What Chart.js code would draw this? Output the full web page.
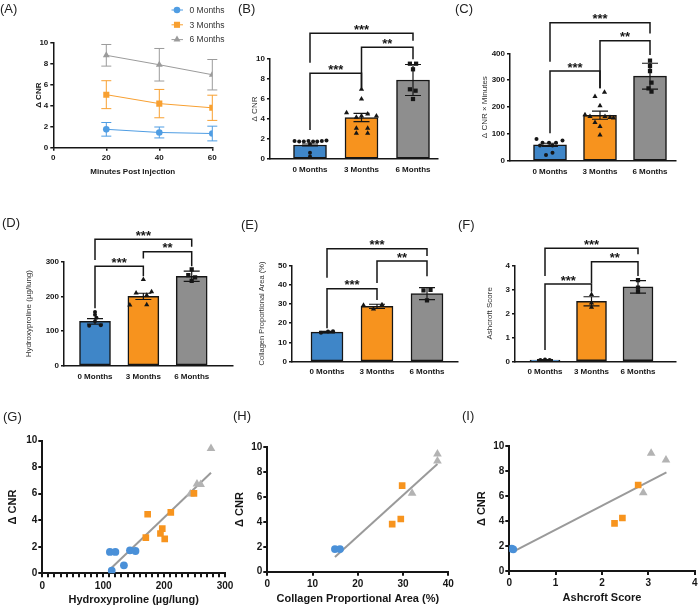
<!DOCTYPE html>
<html>
<head>
<meta charset="utf-8">
<script src="https://cdn.jsdelivr.net/npm/chart.js@4.4.0/dist/chart.umd.min.js"></script>
<style>
  html, body { margin: 0; padding: 0; background: #fff; }
  #page { position: relative; width: 700px; height: 607px; overflow: hidden; }
  #page canvas { position: absolute; left: 0; top: 0; }
  .tag { position: absolute; font: 13px 'Liberation Sans', Arial, sans-serif; color: #222; line-height: 13px; white-space: nowrap; }
</style>
</head>
<body>
<div id="page"></div>
<script>
// ---- data ----
const groups = ['0 Months', '3 Months', '6 Months'];

// (A) delta CNR over time, mean and error per group
const minutes = [20, 40, 60];
const timeCnr0 = [1.75, 1.45, 1.35];
const timeErr0 = [0.65, 0.52, 0.7];
const timeCnr3 = [5.05, 4.2, 3.8];
const timeErr3 = [1.33, 1.35, 1.2];
const timeCnr6 = [8.8, 7.9, 6.95];
const timeErr6 = [1.03, 1.55, 1.45];

// (B) delta CNR, bars + individual animals [x offset, value]
const cnrMean = [1.4, 4.15, 7.9];
const cnrErr = [0.1, 0.42, 1.55];
const cnrDots0 = [[-0.3, 1.8], [-0.21, 1.75], [-0.12, 1.75], [-0.03, 1.8], [0.06, 1.75], [0.14, 1.75], [0.23, 1.8], [0.32, 1.85], [0, 1.5], [0, 0.63], [0, 0.25]];
const cnrDots3 = [[0, 6.97], [0, 6.0], [-0.29, 4.63], [-0.1, 4.17], [0, 4.3], [0.12, 4.5], [0.29, 4.3], [-0.1, 3.07], [0.12, 3.07], [-0.1, 2.57], [0.12, 2.57]];
const cnrDots6 = [[-0.06, 9.53], [0.06, 9.53], [0, 8.97], [-0.06, 6.97], [0.05, 6.83], [0, 6.0]];
// [from, to, top, left leg end, right leg end, label]
const cnrSig = [[0, 2, 12.57, 9.63, 11.83, '***'], [1, 2, 11.17, 7.13, 9.97, '**'], [0, 1, 8.57, 2.9, 7.13, '***']];

// (C) delta CNR x minutes
const aucMean = [60, 170, 315];
const aucErr = [6, 15, 48];
const aucDots0 = [[-0.27, 82], [-0.15, 68], [-0.02, 68], [0.12, 68], [0.25, 76], [-0.2, 58], [0.05, 58], [-0.08, 22], [0.05, 31]];
const aucDots3 = [[-0.1, 240], [0.09, 255], [0, 205], [-0.3, 172], [-0.2, 165], [0.1, 165], [0.27, 160], [-0.1, 143], [0, 128], [0, 97], [0.2, 162]];
const aucDots6 = [[0, 373], [0, 352], [0, 334], [0.03, 291], [-0.03, 270], [0.03, 258]];
const aucSig = [[0, 2, 513.7, 368.8, 474, '***'], [1, 2, 447, 270, 394, '**'], [0, 1, 334, 103, 270, '***']];

// (D) hydroxyproline
const hypMean = [128, 200, 258];
const hypErr = [8, 9, 15];
const hypDots0 = [[0, 155], [0, 147], [0.03, 138], [0, 128], [-0.12, 115], [0.12, 117]];
const hypDots3 = [[0, 249], [0.17, 213], [-0.15, 210], [0.07, 203], [-0.28, 175], [0.07, 176]];
const hypDots6 = [[0, 278], [-0.07, 261], [0.07, 255], [0, 245]];
const hypSig = [[0, 2, 365, 305, 343, '***'], [1, 2, 328.5, 309, 287, '**'], [0, 1, 287, 166, 258, '***']];

// (E) collagen proportional area
const colMean = [15.3, 28.7, 35.3];
const colErr = [0.4, 1.1, 3.1];
const colDots0 = [[-0.12, 15.0], [0.02, 15.7], [0.12, 15.8]];
const colDots3 = [[-0.27, 29.3], [-0.07, 27.3], [0.1, 29.5]];
const colDots6 = [[-0.07, 37], [0.07, 37.3], [0, 31.8]];
const colSig = [[0, 2, 58.6, 43.6, 54.8, '***'], [1, 2, 52.2, 40.8, 44.3, '**'], [0, 1, 37.9, 17.3, 32, '***']];

// (F) Ashcroft score
const ashMean = [0.05, 2.5, 3.1];
const ashErr = [0.02, 0.19, 0.26];
const ashDots0 = [[-0.1, 0.05], [0, 0.08], [0.1, 0.05]];
const ashDots3 = [[0, 2.78], [0, 2.43], [0, 2.25]];
const ashDots6 = [[0, 3.38], [0, 3.07], [0, 2.9]];
const ashSig = [[0, 2, 4.71, 3.55, 4.46, '***'], [1, 2, 4.15, 3.25, 3.55, '**'], [0, 1, 3.22, 0.47, 2.9, '***']];

// (G) CNR vs hydroxyproline
const gHyp0 = [111, 120, 114, 134, 144, 153];
const gCnr0 = [1.61, 1.61, 0.2, 0.6, 1.73, 1.68];
const gHyp3 = [173, 170, 211, 194, 197, 201, 249];
const gCnr3 = [4.45, 2.69, 4.6, 3.0, 3.37, 2.6, 6.03];
const gHyp6 = [243, 254, 260, 277];
const gCnr6 = [5.98, 6.73, 6.7, 9.42];
const gFit = [[113, 0.38], [277, 7.59]];

// (H) CNR vs collagen area
const hCol0 = [14.95, 16.06];
const hCnr0 = [1.82, 1.82];
const hCol3 = [29.8, 27.6, 29.5];
const hCnr3 = [6.92, 3.83, 4.24];
const hCol6 = [37.6, 37.6, 32];
const hCnr6 = [9.46, 8.9, 6.3];
const hFit = [[14.95, 1.18], [37.6, 8.66]];

// (I) CNR vs Ashcroft
const iAsh0 = [0.05, 0.085];
const iCnr0 = [1.79, 1.74];
const iAsh3 = [2.78, 2.27, 2.44];
const iCnr3 = [6.9, 3.82, 4.25];
const iAsh6 = [3.06, 3.38, 2.89];
const iCnr6 = [9.44, 8.9, 6.28];
const iFit = [[0.085, 1.55], [3.39, 7.91]];

// ---- look ----
const FONT = "'Liberation Sans', Arial, sans-serif";
const INK = '#161616';
const BAR_COLORS = ['#3f86c8', '#f7931e', '#8e8e8e'];
const LINE_COLORS = ['#4f9de3', '#f8a031', '#9b9b9b'];
const PT_COLORS = ['#4a90d8', '#f7941e', '#b3b3b3'];
const STYLES = ['circle', 'rect', 'triangle'];
const DOT_STYLES = ['circle', 'triangle', 'rect'];

Chart.defaults.font.family = FONT;
Chart.defaults.color = INK;

// plot-area boxes in page pixels
const boxA = { l: 53.3, t: 42.7, r: 212.3, b: 147.7, yw: 19.8, xh: 29.1 };
const boxB = { l: 270, t: 59, r: 438, b: 159, yw: 19.8, xh: 20, centers: [310, 361.5, 413], bar: 33, lpad: 5.7 };
const boxC = { l: 510, t: 53.3, r: 676, b: 161, yw: 29.8, xh: 20, centers: [550, 600, 650], bar: 33, lpad: 5.5 };
const boxD = { l: 64, t: 261.7, r: 233, b: 365.7, yw: 40.5, xh: 20, centers: [95, 143, 191.7], bar: 31, lpad: 6 };
const boxE = { l: 292, t: 265.3, r: 458, b: 361.7, yw: 34.5, xh: 20, centers: [327, 377, 427], bar: 32, lpad: 5.5 };
const boxF = { l: 515, t: 265.3, r: 676, b: 361.3, yw: 30.5, xh: 20, centers: [545, 592, 638], bar: 30, lpad: 6 };
const boxG = { l: 42.3, t: 440.7, r: 225, b: 573.3, yw: 35.6, xh: 33.7 };
const boxH = { l: 267.3, t: 447.3, r: 448.3, b: 571.7, yw: 33.9, xh: 34.2 };
const boxI = { l: 509.3, t: 446.3, r: 697.3, b: 571, yw: 34.2, xh: 33.9 };

const page = document.getElementById('page');

function makeCanvas() {
  const c = document.createElement('canvas');
  c.width = 700; c.height = 607;
  page.appendChild(c);
  return c;
}

function tag(text, x, y) {
  const d = document.createElement('div');
  d.className = 'tag';
  d.textContent = text;
  d.style.left = x + 'px';
  d.style.top = y + 'px';
  page.appendChild(d);
}

function frame(box) {
  return { padding: { left: box.l - box.yw, top: box.t, right: 700 - box.r, bottom: 607 - box.b - box.xh } };
}

function scale(box, horiz, o) {
  const s = {
    type: 'linear', min: o.min, max: o.max, offset: false,
    afterFit: sc => { if (horiz) sc.height = box.xh; else sc.width = box.yw; },
    border: { display: true, color: INK, width: o.bw },
    grid: { display: true, drawOnChartArea: false, drawTicks: o.tl > 0, tickLength: o.tl, color: INK, lineWidth: o.bw, offset: false },
    ticks: { padding: o.pad, color: INK, font: { size: o.fs, weight: 'bold' }, maxRotation: 0, autoSkip: false },
    title: { display: false }
  };
  if (o.step) s.ticks.stepSize = o.step;
  if (o.cb) s.ticks.callback = o.cb;
  if (o.values) s.afterBuildTicks = sc => { sc.ticks = o.values.map(v => ({ value: v })); };
  if (o.title) s.title = { display: true, text: o.title, padding: 0, color: o.tcolor || INK, font: { size: o.tsize, weight: o.tweight || 'normal' } };
  return s;
}

function errorBars(items, cap, width, under) {
  const draw = chart => {
    const { ctx, scales: { x, y } } = chart;
    ctx.save();
    ctx.lineWidth = width;
    items.forEach(it => {
      const px = x.getPixelForValue(it.x), lo = y.getPixelForValue(it.lo), hi = y.getPixelForValue(it.hi);
      ctx.strokeStyle = it.color;
      ctx.beginPath();
      ctx.moveTo(px, lo); ctx.lineTo(px, hi);
      ctx.moveTo(px - cap, lo); ctx.lineTo(px + cap, lo);
      ctx.moveTo(px - cap, hi); ctx.lineTo(px + cap, hi);
      ctx.stroke();
    });
    ctx.restore();
  };
  return under ? { id: 'errUnder', beforeDatasetsDraw: draw } : { id: 'errOver', afterDatasetsDraw: draw };
}

function brackets(list) {
  return {
    id: 'brackets',
    afterDraw(chart) {
      const { ctx, scales: { x, y } } = chart;
      ctx.save();
      ctx.strokeStyle = INK; ctx.lineWidth = 1.5; ctx.fillStyle = INK;
      ctx.font = 'bold 13px ' + FONT; ctx.textAlign = 'center'; ctx.textBaseline = 'alphabetic';
      list.forEach(([a, b, top, endA, endB, label]) => {
        const xa = x.getPixelForValue(a), xb = x.getPixelForValue(b), yt = y.getPixelForValue(top);
        ctx.beginPath();
        ctx.moveTo(xa, y.getPixelForValue(endA));
        ctx.lineTo(xa, yt); ctx.lineTo(xb, yt);
        ctx.lineTo(xb, y.getPixelForValue(endB));
        ctx.stroke();
        ctx.fillText(label, (xa + xb) / 2, yt + 0.5);
      });
      ctx.restore();
    }
  };
}

function marker(ctx, style, x, y, r) {
  ctx.beginPath();
  if (style === 'circle') ctx.arc(x, y, r, 0, Math.PI * 2);
  else if (style === 'rect') { const s = r * Math.SQRT1_2; ctx.rect(x - s, y - s, 2 * s, 2 * s); }
  else { ctx.moveTo(x, y - r); ctx.lineTo(x + r * 0.866, y + r * 0.5); ctx.lineTo(x - r * 0.866, y + r * 0.5); ctx.closePath(); }
  ctx.fill();
}

function miniLegend(x, y0, dy) {
  return {
    id: 'miniLegend',
    afterDraw(chart) {
      const ctx = chart.ctx;
      ctx.save();
      ctx.font = '8.5px ' + FONT; ctx.textBaseline = 'middle'; ctx.textAlign = 'left';
      chart.data.datasets.forEach((ds, i) => {
        const y = y0 + i * dy;
        ctx.strokeStyle = ds.borderColor; ctx.lineWidth = 1;
        ctx.beginPath(); ctx.moveTo(x - 5.5, y); ctx.lineTo(x + 6, y); ctx.stroke();
        ctx.fillStyle = ds.pointBackgroundColor;
        marker(ctx, ds.pointStyle, x, y, ds.pointRadius);
        ctx.fillStyle = '#333';
        ctx.fillText(ds.label, x + 12.5, y + 0.5);
      });
      ctx.restore();
    }
  };
}

const baseOpts = { responsive: false, animation: false, events: [] };
const noPlug = { legend: { display: false }, tooltip: { enabled: false } };

// ---- (A) ----
(function () {
  const means = [timeCnr0, timeCnr3, timeCnr6];
  const errs = [timeErr0, timeErr3, timeErr6];
  const radii = [3.3, 4.3, 4];
  const datasets = means.map((m, g) => ({
    type: 'line', label: groups[g],
    data: minutes.map((t, i) => ({ x: t, y: m[i] })),
    borderColor: LINE_COLORS[g], borderWidth: 1, tension: 0,
    pointStyle: STYLES[g], pointRadius: radii[g], pointBackgroundColor: LINE_COLORS[g], pointBorderWidth: 0
  }));
  const items = [];
  means.forEach((m, g) => minutes.forEach((t, i) => items.push({ x: t, lo: m[i] - errs[g][i], hi: m[i] + errs[g][i], color: LINE_COLORS[g] })));
  new Chart(makeCanvas(), {
    type: 'line',
    data: { datasets },
    options: Object.assign({}, baseOpts, {
      layout: frame(boxA),
      plugins: noPlug,
      scales: {
        x: scale(boxA, true, { min: 0, max: 60, step: 20, bw: 1.5, tl: 3, pad: 2, fs: 8, title: 'Minutes Post Injection', tsize: 8, tweight: 'bold' }),
        y: scale(boxA, false, { min: 0, max: 10, step: 2, bw: 1.5, tl: 3, pad: 2, fs: 8, title: 'Δ CNR', tsize: 8, tweight: 'bold' })
      }
    }),
    plugins: [errorBars(items, 5, 1, true), miniLegend(177, 10, 14.8)]
  });
})();

// ---- bar panels (B-F) ----
function barPanel(box, o) {
  const per = (box.centers[2] - box.centers[0]) / 2;
  const xmin = (box.l - box.centers[0]) / per, xmax = (box.r - box.centers[0]) / per;
  const datasets = [{
    type: 'bar', data: o.mean.map((m, i) => ({ x: i, y: m })),
    backgroundColor: BAR_COLORS, borderColor: INK, borderWidth: 1.5, borderSkipped: false,
    barThickness: box.bar, order: 2
  }];
  const dotRadius = [2, 3, 3];
  [o.dots0, o.dots3, o.dots6].forEach((d, g) => datasets.push({
    type: 'scatter', data: d.map(p => ({ x: g + p[0], y: p[1] })),
    pointStyle: DOT_STYLES[g], pointRadius: dotRadius[g], pointBackgroundColor: INK, pointBorderWidth: 0, order: 1
  }));
  const items = o.mean.map((m, i) => ({ x: i, lo: m - o.err[i], hi: m + o.err[i], color: INK }));
  new Chart(makeCanvas(), {
    type: 'bar',
    data: { datasets },
    options: Object.assign({}, baseOpts, {
      layout: frame(box),
      plugins: noPlug,
      scales: {
        x: scale(box, true, { min: xmin, max: xmax, values: [0, 1, 2], cb: v => groups[v], bw: 1.5, tl: 0, pad: box.lpad, fs: 8 }),
        y: scale(box, false, { min: 0, max: o.max, step: o.step, bw: 1.5, tl: 3, pad: 2, fs: 8, title: o.title, tsize: o.tsize || 8, tcolor: '#333' })
      }
    }),
    plugins: [errorBars(items, 8, 1.2, false), brackets(o.sig)]
  });
}

barPanel(boxB, { mean: cnrMean, err: cnrErr, dots0: cnrDots0, dots3: cnrDots3, dots6: cnrDots6, sig: cnrSig, max: 10, step: 2, title: 'Δ CNR' });
barPanel(boxC, { mean: aucMean, err: aucErr, dots0: aucDots0, dots3: aucDots3, dots6: aucDots6, sig: aucSig, max: 400, step: 100, title: 'Δ CNR × Minutes' });
barPanel(boxD, { mean: hypMean, err: hypErr, dots0: hypDots0, dots3: hypDots3, dots6: hypDots6, sig: hypSig, max: 300, step: 100, title: 'Hydroxyproline (µg/lung)' });
barPanel(boxE, { mean: colMean, err: colErr, dots0: colDots0, dots3: colDots3, dots6: colDots6, sig: colSig, max: 50, step: 10, title: 'Collagen Proportional Area (%)', tsize: 7.5 });
barPanel(boxF, { mean: ashMean, err: ashErr, dots0: ashDots0, dots3: ashDots3, dots6: ashDots6, sig: ashSig, max: 4, step: 1, title: 'Ashcroft Score' });

// ---- scatter panels (G-I) ----
function scatterPanel(box, o) {
  const radii = [3.9, 4.7, 5];
  const datasets = [[o.x0, o.y0], [o.x3, o.y3], [o.x6, o.y6]].map(([xs, ys], g) => ({
    type: 'scatter', data: xs.map((v, i) => ({ x: v, y: ys[i] })),
    pointStyle: STYLES[g], pointRadius: radii[g], pointBackgroundColor: PT_COLORS[g], pointBorderWidth: 0, order: 1
  }));
  datasets.push({
    type: 'line', data: o.fit.map(p => ({ x: p[0], y: p[1] })),
    borderColor: '#9a9a9a', borderWidth: 2, pointRadius: 0, order: 10
  });
  new Chart(makeCanvas(), {
    type: 'scatter',
    data: { datasets },
    options: Object.assign({}, baseOpts, {
      layout: frame(box),
      plugins: noPlug,
      scales: {
        x: scale(box, true, { min: 0, max: o.xmax, step: o.xstep, cb: o.xcb, bw: 2, tl: 4, pad: 2.5, fs: 10, title: o.xtitle, tsize: 11, tweight: 'bold' }),
        y: scale(box, false, { min: 0, max: 10, step: 2, bw: 2, tl: 4, pad: 1, fs: 10, title: 'Δ CNR', tsize: 11, tweight: 'bold' })
      }
    })
  });
}

scatterPanel(boxG, { x0: gHyp0, y0: gCnr0, x3: gHyp3, y3: gCnr3, x6: gHyp6, y6: gCnr6, fit: gFit, xmax: 300, xstep: 10, xcb: v => (v % 100 === 0 ? v : ''), xtitle: 'Hydroxyproline (µg/lung)' });
scatterPanel(boxH, { x0: hCol0, y0: hCnr0, x3: hCol3, y3: hCnr3, x6: hCol6, y6: hCnr6, fit: hFit, xmax: 40, xstep: 10, xtitle: 'Collagen Proportional Area (%)' });
scatterPanel(boxI, { x0: iAsh0, y0: iCnr0, x3: iAsh3, y3: iCnr3, x6: iAsh6, y6: iCnr6, fit: iFit, xmax: 4, xstep: 1, xtitle: 'Ashcroft Score' });

// ---- panel letters ----
tag('(A)', 0, 1.5);
tag('(B)', 238, 1.5);
tag('(C)', 455, 1.5);
tag('(D)', 2, 215.5);
tag('(E)', 241, 217.5);
tag('(F)', 458, 217.5);
tag('(G)', 3, 409.5);
tag('(H)', 233, 408.5);
tag('(I)', 462, 408.5);
</script>
</body>
</html>
